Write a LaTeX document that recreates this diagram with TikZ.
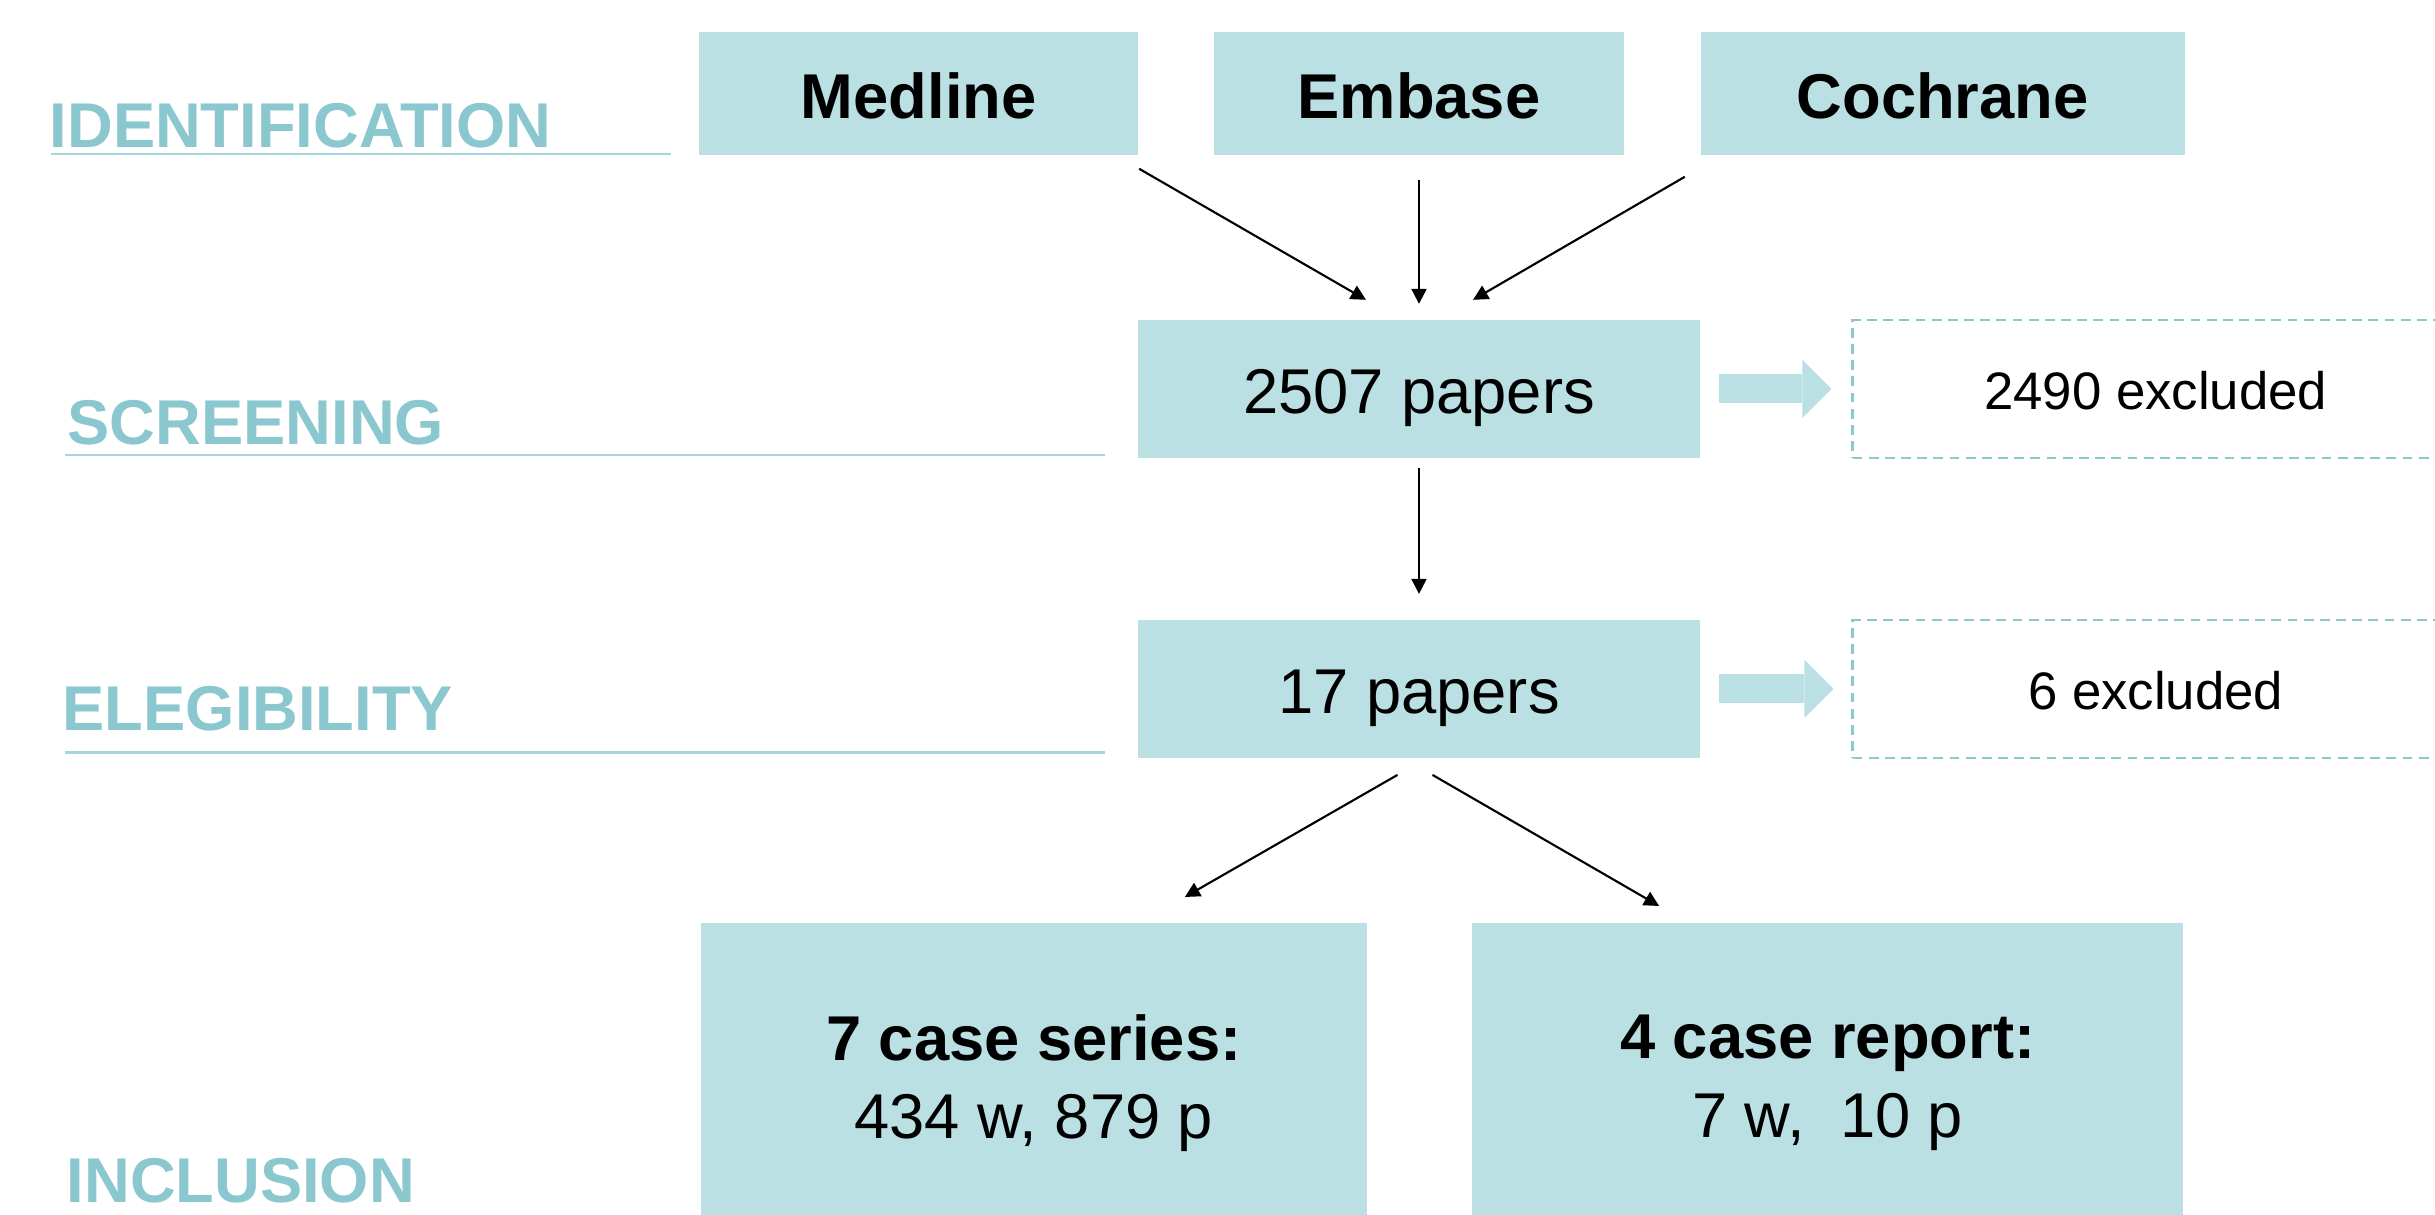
\documentclass[tikz,border=0pt]{standalone}
\usepackage{xcolor}
\usepackage{fontspec}
\setmainfont{Liberation Sans}
\usetikzlibrary{arrows.meta,positioning}

\definecolor{boxfill}{RGB}{186,224,227}
\definecolor{stagetext}{RGB}{138,199,207}
\definecolor{stageline}{RGB}{163,213,219}
\definecolor{dashline}{RGB}{140,201,207}

\begin{document}
\begin{tikzpicture}[
    x=0.01cm, y=-0.01cm,
    box/.style={rectangle, fill=boxfill, inner sep=0pt, minimum height=1.23cm, text height=16.2pt, text depth=2.2pt},
    source/.style={box, font=\bfseries\fontsize{18}{22}\selectfont},
    count/.style={box, minimum width=5.61cm, minimum height=1.385cm, font=\fontsize{18}{22}\selectfont},
    excl/.style={rectangle, draw=dashline, dash pattern=on 2.8pt off 1.8pt, line width=0.6pt, inner sep=0pt, minimum width=6.06cm, minimum height=1.38cm, text height=13.5pt, text depth=1.8pt, font=\fontsize{15}{18}\selectfont},
    result/.style={rectangle, fill=boxfill, inner sep=0pt, minimum height=3.2cm, align=center, font=\fontsize{18}{22.2}\selectfont},
    stage/.style={anchor=base west, inner sep=0pt, text=stagetext, font=\bfseries\fontsize{18}{22}\selectfont},
    stagerule/.style={draw=stageline, line width=0.85pt},
    arr/.style={-{Triangle[length=1.5mm, width=1.5mm]}, line width=0.6pt},
    fat/.style={draw=boxfill, line width=0.29cm, -{Triangle[length=0.29cm, width=0.58cm, line width=0pt]}}
]
\useasboundingbox (0,0) rectangle (2435,1215);
\clip (0,0) rectangle (2435,1215);

% stages
\node[stage] (identlab)  at (49,147)  {IDENTIFICATION};
\node[stage] (screenlab) at (67,444)  {SCREENING};
\node[stage] (eliglab)   at (62,730)  {ELEGIBILITY};
\node[stage] (incllab)   at (66,1202) {INCLUSION};
\draw[stagerule] (51,154) -- (671,154);
\draw[stagerule] (65,455) -- (1105,455);
\draw[stagerule] (65,752) -- (1105,752);

% databases
\node[source, minimum width=4.10cm] (embase) at (1419,93.5) {Embase};
\node[source, minimum width=4.39cm, left=0.74cm of embase]  (medline)  {Medline};
\node[source, minimum width=4.84cm, right=0.75cm of embase] (cochrane) {Cochrane};

% flow
\node[count, below=1.63cm of embase] (screen) {2507 papers};
\node[count, below=1.60cm of screen] (elig)   {17 papers};
\node[excl, right=1.51cm of screen]  (excl1)  {2490 excluded};
\node[excl, right=1.51cm of elig]    (excl2)  {6 excluded};
\node[result, minimum width=6.66cm, below=1.63cm of elig, xshift=-3.85cm]  (series) {\textbf{7 case series:}\\434 w, 879 p};
\node[result, minimum width=7.11cm, below=1.63cm of elig, xshift=4.085cm] (report) {\textbf{4 case report:}\\7 w,\ \ 10 p};

\draw[arr] ([yshift=-0.13cm]medline.south east) -- ([xshift=-0.53cm, yshift=0.19cm]screen.north);
\draw[arr] ([yshift=-0.24cm]embase.south) -- ([yshift=0.15cm]screen.north);
\draw[arr] ([xshift=-0.15cm, yshift=-0.21cm]cochrane.south west) -- ([xshift=0.54cm, yshift=0.19cm]screen.north);
\draw[arr] ([yshift=-0.09cm]screen.south) -- ([yshift=0.25cm]elig.north);
\draw[arr] ([xshift=-0.215cm, yshift=-0.16cm]elig.south) -- ([xshift=1.51cm, yshift=0.25cm]series.north);
\draw[arr] ([xshift=0.135cm, yshift=-0.16cm]elig.south) -- ([xshift=-1.685cm, yshift=0.16cm]report.north);

\draw[fat, shorten <=0.19cm, shorten >=0.20cm] (screen) -- (excl1);
\draw[fat, shorten <=0.19cm, shorten >=0.18cm] (elig) -- (excl2);
\end{tikzpicture}
\end{document}
